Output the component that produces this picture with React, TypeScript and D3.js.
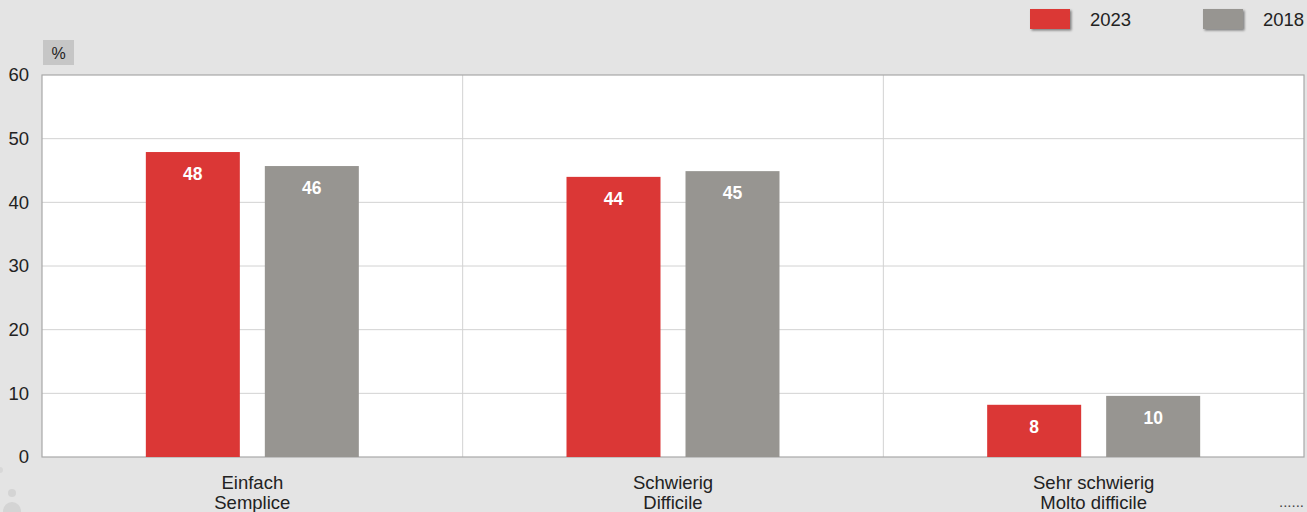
import React, { useEffect, useRef } from 'react';
import * as d3 from 'd3';

const categories = [['Einfach', 'Semplice'], ['Schwierig', 'Difficile'], ['Sehr schwierig', 'Molto difficile']];
const seriesNames = ['2023', '2018'];
const values2023 = [47.9, 44.0, 8.2];
const values2018 = [45.7, 44.9, 9.6];
const labels2023 = ['48', '44', '8'];
const labels2018 = ['46', '45', '10'];
const yTicks = [0, 10, 20, 30, 40, 50, 60];

const colors = ['#db3736', '#979591'];
const font = 'Arial, "Liberation Sans", Helvetica, sans-serif';

const App: React.FC = () => {
  const svgRef = useRef<SVGSVGElement>(null);

  useEffect(() => {
    if (!svgRef.current) return;
    const svg = d3.select(svgRef.current);
    svg.selectAll('*').remove();

    const width = 1307;
    const height = 512;
    const margin = { top: 75, right: 3, bottom: 55, left: 42 };

    svg.attr('width', width).attr('height', height);

    // background
    svg.append('rect').attr('width', width).attr('height', height).attr('fill', '#e4e4e4');

    const defs = svg.append('defs');
    const f = defs.append('filter').attr('id', 'shadow').attr('x', '-20%').attr('y', '-20%')
      .attr('width', '150%').attr('height', '170%');
    f.append('feDropShadow').attr('dx', 1.5).attr('dy', 1.5).attr('stdDeviation', 1)
      .attr('flood-color', '#000').attr('flood-opacity', 0.45);

    const x = d3.scaleBand<number>()
      .domain(d3.range(categories.length))
      .range([margin.left, width - margin.right]);
    const y = d3.scaleLinear().domain([0, 60]).range([height - margin.bottom, margin.top]);

    // plot area
    svg.append('rect')
      .attr('x', margin.left)
      .attr('y', margin.top)
      .attr('width', width - margin.left - margin.right)
      .attr('height', y(0) - margin.top)
      .attr('fill', '#fff');

    // horizontal grid
    svg.append('g').selectAll('line')
      .data(yTicks.filter(t => t > 0 && t < 60))
      .join('line')
      .attr('x1', margin.left).attr('x2', width - margin.right)
      .attr('y1', d => y(d)).attr('y2', d => y(d))
      .attr('stroke', '#d2d2d2').attr('stroke-width', 1);

    // vertical dividers
    svg.append('g').selectAll('line')
      .data(d3.range(1, categories.length))
      .join('line')
      .attr('x1', d => x(d)!).attr('x2', d => x(d)!)
      .attr('y1', margin.top).attr('y2', y(0))
      .attr('stroke', '#d2d2d2').attr('stroke-width', 1);

    // border
    svg.append('rect')
      .attr('x', margin.left)
      .attr('y', margin.top)
      .attr('width', width - margin.left - margin.right)
      .attr('height', y(0) - margin.top)
      .attr('fill', 'none')
      .attr('stroke', '#a8a8a8')
      .attr('stroke-width', 1.2);

    // y tick labels
    svg.append('g').selectAll('text')
      .data(yTicks)
      .join('text')
      .attr('x', 29)
      .attr('y', d => y(d))
      .attr('dy', '0.35em')
      .attr('text-anchor', 'end')
      .attr('fill', '#222')
      .style('font-family', font)
      .style('font-size', '18.5px')
      .text(d => d);

    // % unit box
    svg.append('rect').attr('x', 43).attr('y', 40).attr('width', 31).attr('height', 25).attr('fill', '#c6c6c6');
    svg.append('text').attr('x', 58.5).attr('y', 53).attr('dy', '0.35em')
      .attr('text-anchor', 'middle').attr('fill', '#222')
      .style('font-family', font).style('font-size', '16px').text('%');

    // bars
    const barW = 94;
    const gap = 25;
    const series = [
      { vals: values2023, labels: labels2023 },
      { vals: values2018, labels: labels2018 },
    ];
    series.forEach((s, si) => {
      const g = svg.append('g');
      const bx = (i: number) => x(i)! + x.bandwidth() / 2 - (barW * 2 + gap) / 2 + si * (barW + gap);
      g.selectAll('rect')
        .data(s.vals)
        .join('rect')
        .attr('x', (_, i) => bx(i))
        .attr('y', d => y(d))
        .attr('width', barW)
        .attr('height', d => y(0) - y(d))
        .attr('fill', colors[si]);
      g.selectAll('text')
        .data(s.vals)
        .join('text')
        .attr('x', (_, i) => bx(i) + barW / 2)
        .attr('y', d => y(d) + 22)
        .attr('dy', '0.35em')
        .attr('text-anchor', 'middle')
        .attr('fill', '#fff')
        .style('font-family', font)
        .style('font-weight', 'bold')
        .style('font-size', '17.5px')
        .text((_, i) => s.labels[i]);
    });

    // x labels
    const xl = svg.append('g');
    categories.forEach((c, i) => {
      c.forEach((line, li) => {
        xl.append('text')
          .attr('x', x(i)! + x.bandwidth() / 2)
          .attr('y', 483 + li * 20)
          .attr('dy', '0.35em')
          .attr('text-anchor', 'middle')
          .attr('fill', '#222')
          .style('font-family', font)
          .style('font-size', '18.5px')
          .text(line);
      });
    });

    // legend
    const legendX = [1030, 1203];
    seriesNames.forEach((name, i) => {
      svg.append('rect')
        .attr('x', legendX[i]).attr('y', 9).attr('width', 40).attr('height', 20)
        .attr('fill', colors[i]).attr('filter', 'url(#shadow)');
      svg.append('text')
        .attr('x', legendX[i] + 60).attr('y', 20).attr('dy', '0.35em')
        .attr('fill', '#222')
        .style('font-family', font).style('font-size', '18.5px')
        .text(name);
    });

    // decorations bottom
    svg.append('circle').attr('cx', 12).attr('cy', 493).attr('r', 4).attr('fill', '#d4d4d4');
    svg.append('circle').attr('cx', 12).attr('cy', 511).attr('r', 9).attr('fill', '#d4d4d4');
    svg.append('circle').attr('cx', 0).attr('cy', 470).attr('r', 3).attr('fill', '#d8d8d8');
    svg.append('text').attr('x', 1279).attr('y', 507)
      .attr('fill', '#444').style('font-family', font).style('font-size', '15px').text('......');
  }, []);

  return (
    <div style={{ position: 'absolute', left: 0, top: 0 }}>
      <svg ref={svgRef} style={{ display: 'block' }} />
    </div>
  );
};

export default App;
